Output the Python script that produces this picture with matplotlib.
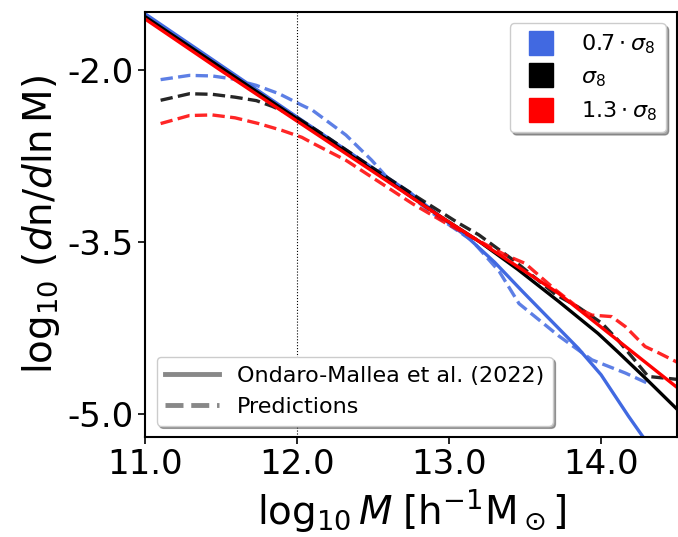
import matplotlib
matplotlib.use("Agg")
import matplotlib.pyplot as plt
from matplotlib.lines import Line2D

plt.rcParams["axes.unicode_minus"] = False

# Ondaro-Mallea et al. (2022) fits
fit_lo_x = [11.0, 11.5, 12.0, 12.5, 12.75, 12.93, 13.12, 13.3, 13.48, 13.65, 13.85, 14.0, 14.18, 14.27, 14.35]
fit_lo_y = [-1.515, -1.965, -2.415, -2.86, -3.08, -3.27, -3.46, -3.68, -3.93, -4.16, -4.43, -4.66, -5.02, -5.19, -5.33]
fit_mid_x = [11.0, 11.5, 12.0, 12.5, 12.93, 13.2, 13.45, 13.72, 13.98, 14.11, 14.3, 14.5]
fit_mid_y = [-1.54, -1.985, -2.43, -2.88, -3.27, -3.50, -3.74, -4.02, -4.30, -4.46, -4.70, -4.96]
fit_hi_x = [11.0, 11.5, 12.0, 12.5, 12.93, 13.2, 13.5, 13.72, 14.11, 14.5]
fit_hi_y = [-1.56, -2.01, -2.45, -2.89, -3.27, -3.50, -3.76, -3.95, -4.36, -4.77]

# predictions
pred_lo_x = [11.10, 11.29, 11.44, 11.57, 11.73, 11.88, 12.03, 12.10, 12.32, 12.49, 12.625, 12.76,
             12.93, 13.15, 13.33, 13.46, 13.59, 13.72, 13.94, 14.16, 14.30]
pred_lo_y = [-2.087, -2.05, -2.055, -2.08, -2.137, -2.21, -2.31, -2.354, -2.57, -2.79, -2.99, -3.12,
             -3.29, -3.49, -3.76, -4.04, -4.18, -4.32, -4.53, -4.645, -4.73]
pred_mid_x = [11.10, 11.29, 11.44, 11.59, 11.73, 11.835, 11.92, 12.0, 12.21, 12.5, 12.8, 13.064,
              13.195, 13.436, 13.70, 13.85, 14.005, 14.11, 14.22, 14.31, 14.5]
pred_mid_y = [-2.267, -2.21, -2.215, -2.24, -2.27, -2.32, -2.37, -2.42, -2.60, -2.86, -3.12, -3.34,
              -3.44, -3.674, -3.96, -4.07, -4.21, -4.356, -4.53, -4.675, -4.70]
pred_hi_x = [11.10, 11.29, 11.44, 11.59, 11.745, 11.90, 12.03, 12.10, 12.32, 12.54, 12.76, 12.98,
             13.15, 13.37, 13.50, 13.70, 13.87, 13.94, 14.07, 14.16, 14.29, 14.38, 14.5]
pred_hi_y = [-2.47, -2.40, -2.395, -2.42, -2.47, -2.53, -2.59, -2.64, -2.79, -2.98, -3.17, -3.34,
             -3.46, -3.616, -3.689, -3.92, -4.095, -4.14, -4.153, -4.24, -4.414, -4.47, -4.55]

labels = [r"$0.7\cdot\sigma_8$", r"$\sigma_8$", r"$1.3\cdot\sigma_8$"]
colors = ["royalblue", "k", "red"]

fig = plt.figure(figsize=(6.78, 5.37), dpi=100)
ax = fig.add_axes([0.2145, 0.1868, 0.7840, 0.7903])

fits = [(fit_lo_x, fit_lo_y), (fit_mid_x, fit_mid_y), (fit_hi_x, fit_hi_y)]
preds = [(pred_lo_x, pred_lo_y), (pred_mid_x, pred_mid_y), (pred_hi_x, pred_hi_y)]
for (fx, fy), (px, py), c in zip(fits, preds, colors):
    ax.plot(fx, fy, color=c, lw=2.4)
    ax.plot(px, py, color=c, lw=2.4, ls="--", alpha=0.85)

ax.axvline(12.0, color="k", ls=":", lw=0.8)

ax.set_xlim(11.0, 14.5)
ax.set_ylim(-5.2, -1.5)
ax.set_xticks([11.0, 12.0, 13.0, 14.0])
ax.set_yticks([-2.0, -3.5, -5.0])
ax.xaxis.set_major_formatter(plt.FormatStrFormatter("%.1f"))
ax.yaxis.set_major_formatter(plt.FormatStrFormatter("%.1f"))
ax.tick_params(labelsize=24.5, length=5, width=1.2)
for s in ax.spines.values():
    s.set_linewidth(1.5)

ax.set_xlabel(r"$\log_{10}M\;[\mathrm{h}^{-1}\mathrm{M}_\odot]$", fontsize=28)
ax.set_ylabel(r"$\log_{10}\,(d\mathrm{n}/d\mathrm{ln\,M})$", fontsize=28)

sig_handles = [Line2D([], [], ls="none", marker="s", ms=17, color=c) for c in colors]
leg1 = ax.legend(sig_handles, labels, loc="upper right", fontsize=16, shadow=True)
ax.add_artist(leg1)

style_handles = [Line2D([], [], color="#888888", lw=3.5, ls="-"),
                 Line2D([], [], color="#888888", lw=3.5, ls="--")]
ax.legend(style_handles, ["Ondaro-Mallea et al. (2022)", "Predictions"], loc="lower left",
          fontsize=16, shadow=True, handlelength=2.4)

fig.savefig("out.png", dpi=100)
